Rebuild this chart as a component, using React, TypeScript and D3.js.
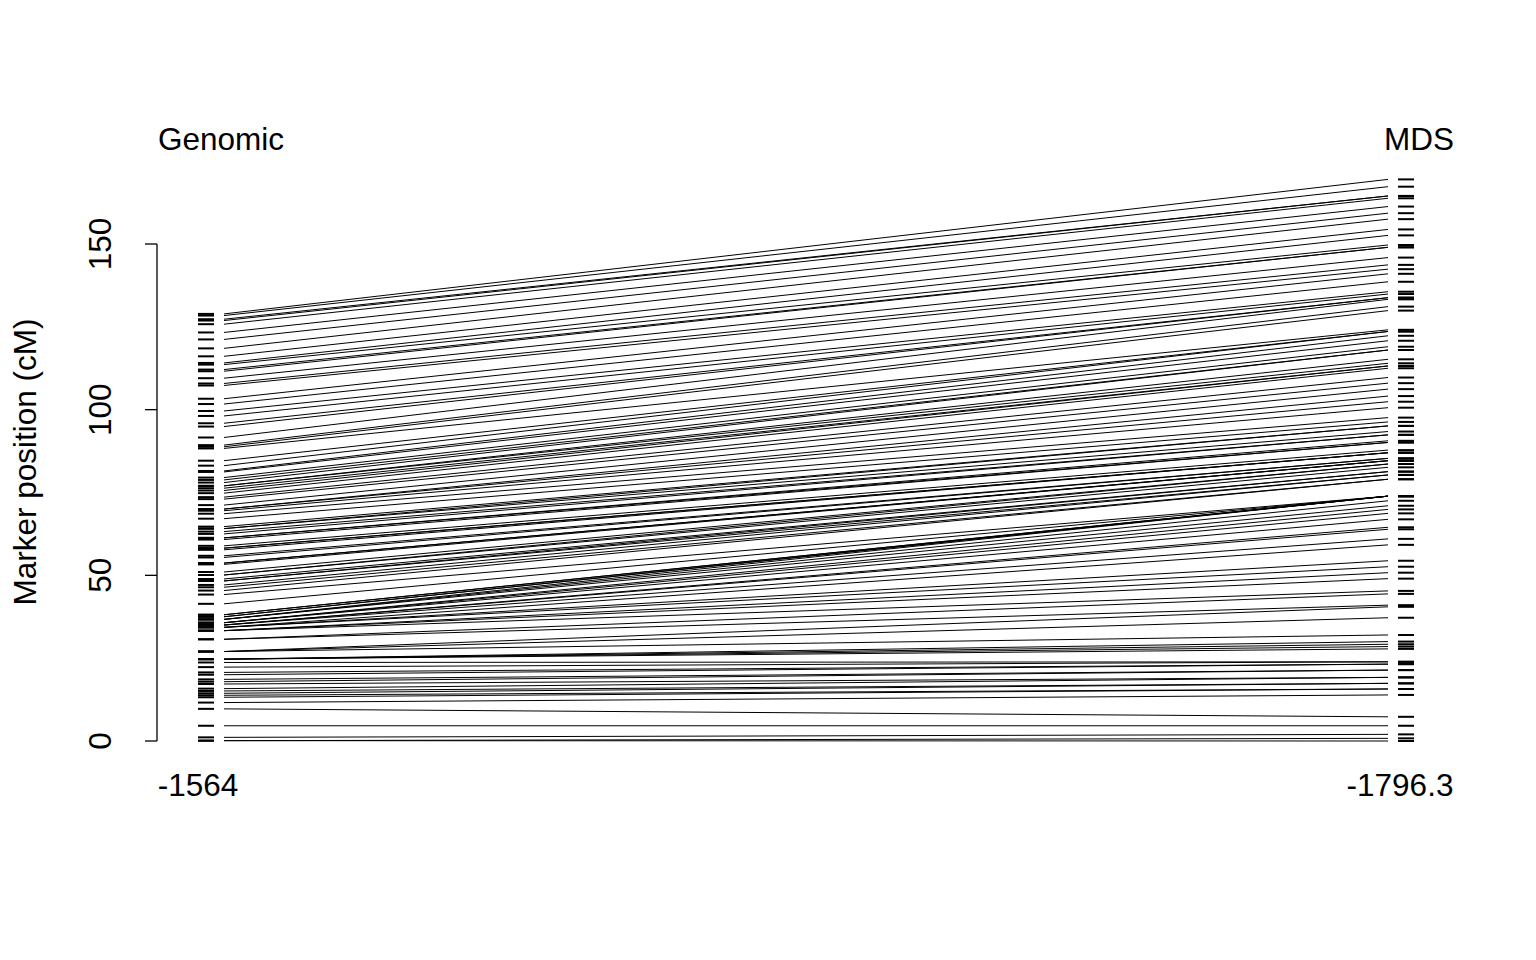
import React from "react";
import * as d3 from "d3";

// Paired marker positions (cM): genomic map vs MDS map
const genomicLow = [0.1, 0.1, 1.1, 4.6, 9.7, 11.6, 13.2, 13.8, 14.4, 15.1, 15.8, 17.2, 17.9, 18.6, 20.0, 20.7, 22.3, 23.7,
  24.7, 24.7, 24.7, 24.7, 27.0,
  27.0, 27.0, 30.7, 30.7, 33.3, 33.3, 33.3, 34.3, 34.3, 34.3, 35.0, 35.0, 35.0, 35.7, 35.7, 35.7, 36.7, 36.7, 36.7, 37.5, 37.5, 38.1, 38.1];
const mdsLow = [0.0, 0.8, 2.0, 4.6, 7.3, 13.9, 15.7, 15.7, 17.4, 17.4, 19.2, 19.2, 21.4, 21.4, 23.2, 23.2, 23.9, 23.9,
  27.8, 28.5, 29.2, 30.0, 32.0,
  37.2, 40.5, 41.0, 44.4, 45.3, 49.0, 50.8, 52.6, 54.4, 59.2, 61.0, 63.9, 64.5, 66.9, 68.7, 69.9, 71.0, 72.5, 73.9, 73.9, 73.9, 73.9, 73.9];

const genomicHigh = [41.4, 44.2, 45.4, 46.4, 47.1, 48.3, 48.3, 48.9, 50.1, 50.1,
  51.0, 53.3, 53.7, 53.7, 55.4, 55.9, 57.7, 58.2, 58.2, 58.9,
  60.8, 61.3, 61.3, 62.5, 63.2, 64.1, 64.1, 64.7, 67.1, 68.6,
  69.5, 70.0, 70.0, 71.2, 73.0, 73.6, 74.8, 75.6, 76.3, 77.0,
  77.0, 78.0, 78.8, 79.5, 81.2, 81.5, 83.1, 84.6,
  88.3, 88.8, 89.3, 91.6, 94.9, 95.9, 98.1, 99.6, 101.7, 103.3,
  107.3, 107.9, 109.5, 111.6, 112.1, 113.6, 114.1, 116.1, 118.5, 121.2,
  123.3, 125.8, 126.9, 127.3, 128.4, 128.9];
const mdsHigh = [73.9, 73.9, 79.0, 79.0, 80.3, 80.3, 81.3, 81.3, 82.6, 83.6,
  83.6, 84.6, 84.6, 84.6, 85.3, 85.3, 87.0, 87.0, 87.0, 87.8,
  90.1, 90.1, 90.6, 92.4, 92.4, 93.4, 95.1, 95.1, 96.3, 97.6,
  100.6, 102.4, 104.1, 106.2, 108.0, 109.7, 112.5, 113.2,
  113.2, 114.0, 115.2, 118.0, 118.0, 119.0, 120.8, 122.3, 123.6, 123.6,
  124.1, 129.9, 131.1, 133.3, 133.8, 133.8, 134.9, 135.6, 138.6, 141.0,
  142.4, 143.7, 145.9, 149.0, 149.0, 149.7, 152.6, 154.4, 157.5, 159.3,
  161.3, 163.8, 164.5, 164.5, 167.3, 169.5];

const genomic = [...genomicLow, ...genomicHigh];
const mds = [...mdsLow, ...mdsHigh];

const mapNames = ["Genomic", "MDS"];
const mapScores = ["-1564", "-1796.3"];
const yTicks = [0, 50, 100, 150];

export default function App() {
  const W = 1536, H = 960;
  const y = d3.scaleLinear().domain([0, 150]).range([741, 244]);
  const x = d3.scaleLinear().domain([1, 2]).range([206, 1406]);
  const font = "'Liberation Sans', Arial, Helvetica, sans-serif";
  const n = Math.min(genomic.length, mds.length);
  const pairs = genomic.slice(0, n).map((g, i) => ({ g, m: mds[i] }));
  const xl = x(1), xr = x(2);
  return (
    <svg width={W} height={H} style={{ position: "absolute", left: 0, top: 0, background: "#fff" }} fontFamily={font}>
      <rect x={0} y={0} width={W} height={H} fill="#fff" />
      {/* y axis */}
      <line x1={157} x2={157} y1={y(0)} y2={y(150)} stroke="#000" strokeWidth={1.3} />
      {yTicks.map((t) => (
        <g key={t}>
          <line x1={145} x2={157} y1={y(t)} y2={y(t)} stroke="#000" strokeWidth={1.3} />
          <text x={0} y={0} transform={`translate(111,${y(t)}) rotate(-90)`} textAnchor="middle" fontSize={31.5} fill="#000">{t}</text>
        </g>
      ))}
      <text transform={`translate(36,462) rotate(-90)`} textAnchor="middle" fontSize={31.5} fill="#000">Marker position (cM)</text>
      {/* connecting lines */}
      {pairs.map((p, i) => (
        <line key={"l" + i} x1={xl + 18} x2={xr - 18} y1={y(p.g)} y2={y(p.m)} stroke="#000" strokeWidth={1} />
      ))}
      {/* marker ticks */}
      {pairs.map((p, i) => (
        <line key={"a" + i} x1={xl - 8} x2={xl + 8} y1={y(p.g)} y2={y(p.g)} stroke="#000" strokeWidth={2} />
      ))}
      {pairs.map((p, i) => (
        <line key={"b" + i} x1={xr - 8} x2={xr + 8} y1={y(p.m)} y2={y(p.m)} stroke="#000" strokeWidth={2} />
      ))}
      {/* map names and scores */}
      <text x={221} y={150} textAnchor="middle" fontSize={31.5} fill="#000">{mapNames[0]}</text>
      <text x={1419} y={150} textAnchor="middle" fontSize={31.5} fill="#000">{mapNames[1]}</text>
      <text x={198} y={796} textAnchor="middle" fontSize={31.5} fill="#000">{mapScores[0]}</text>
      <text x={1400} y={796} textAnchor="middle" fontSize={31.5} fill="#000">{mapScores[1]}</text>
    </svg>
  );
}
